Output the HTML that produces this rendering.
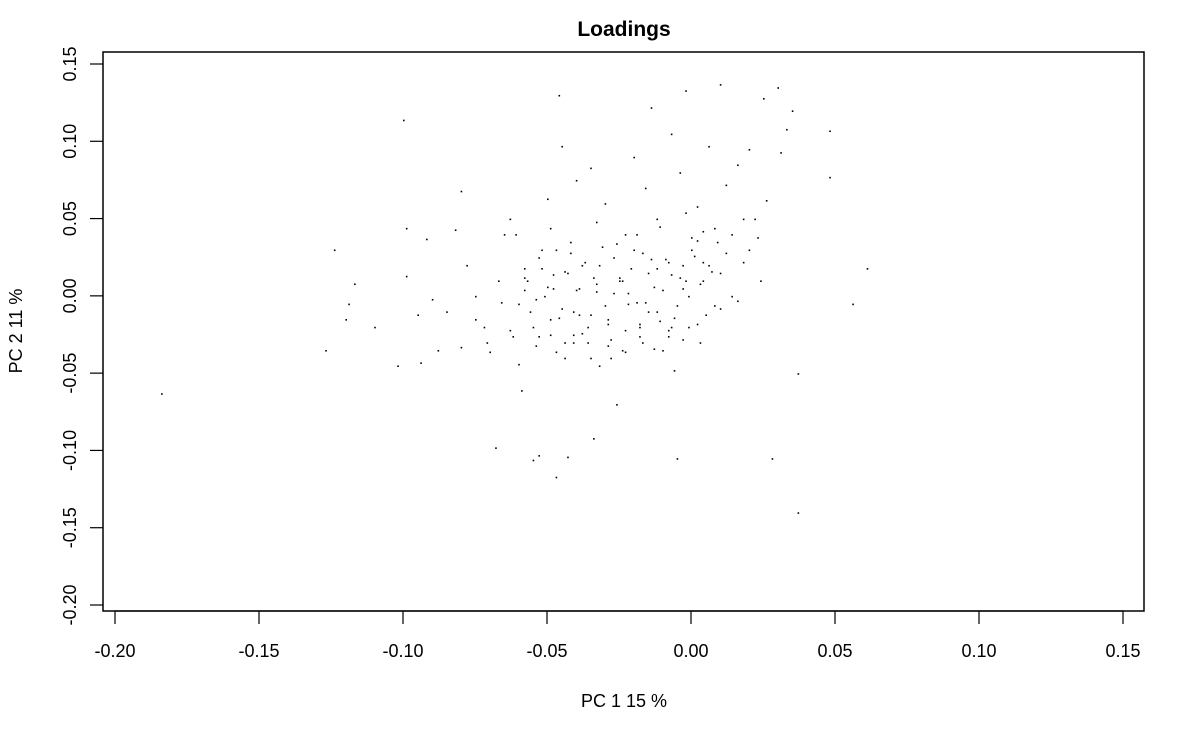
<!DOCTYPE html>
<html><head><meta charset="utf-8">
<style>
html,body{margin:0;padding:0;background:#fff;}
svg{display:block;font-family:"Liberation Sans",Arial,sans-serif;}
</style></head>
<body>
<svg id="chart" width="1198" height="740">
<text x="624" y="36" text-anchor="middle" font-size="21" font-weight="bold">Loadings</text>
<rect x="103" y="52" width="1041" height="559" fill="none" stroke="#000" stroke-width="1.5"/>
<g id="xaxis"></g>
<g id="yaxis"></g>
<text x="624" y="707" text-anchor="middle" font-size="18">PC 1 15 %</text>
<text transform="translate(22,331) rotate(-90)" text-anchor="middle" font-size="18">PC 2 11 %</text>
<g id="points"></g>
</svg>
<script>
const xTicks=[-0.20,-0.15,-0.10,-0.05,0.00,0.05,0.10,0.15];
const yTicks=[-0.20,-0.15,-0.10,-0.05,0.00,0.05,0.10,0.15];
const pc1=[-0.184,-0.127,-0.124,-0.120,-0.119,-0.117,-0.110,-0.102,-0.100,-0.099,-0.099,-0.095,-0.094,-0.092,-0.090,-0.088,-0.085,-0.082,-0.080,-0.080,-0.078,-0.075,-0.072,-0.070,-0.068,-0.065,-0.063,-0.060,-0.059,-0.058,-0.055,-0.053,-0.052,-0.050,-0.049,-0.048,-0.047,-0.046,-0.045,-0.044,-0.043,-0.042,-0.041,-0.040,-0.038,-0.036,-0.035,-0.034,-0.033,-0.032,-0.030,-0.029,-0.027,-0.026,-0.025,-0.024,-0.022,-0.020,-0.019,-0.018,-0.016,-0.015,-0.014,-0.012,-0.011,-0.010,-0.008,-0.007,-0.006,-0.005,-0.004,-0.003,-0.002,-0.001,0.000,0.002,0.003,0.004,0.006,0.008,0.009,0.010,0.012,0.014,0.016,0.018,0.020,0.022,0.024,0.025,0.026,0.028,0.030,0.031,0.033,0.035,0.037,0.037,0.048,0.048,0.056,0.061,0.020,0.023,0.016,0.010,
-0.060,-0.057,-0.055,-0.053,-0.051,-0.049,-0.047,-0.045,-0.043,-0.041,-0.039,-0.037,-0.035,-0.033,-0.031,-0.029,-0.027,-0.025,-0.023,-0.021,-0.019,-0.017,-0.015,-0.013,-0.011,-0.009,-0.007,-0.005,-0.003,-0.001,0.001,0.003,0.005,0.007,
-0.058,-0.054,-0.050,-0.046,-0.042,-0.038,-0.034,-0.030,-0.026,-0.022,-0.018,-0.014,-0.010,-0.006,-0.002,0.002,0.006,0.010,0.014,
-0.062,-0.056,-0.052,-0.048,-0.044,-0.040,-0.036,-0.032,-0.028,-0.024,-0.020,-0.016,-0.012,-0.008,-0.004,0.000,0.004,0.008,
-0.066,-0.061,-0.054,-0.049,-0.044,-0.039,-0.033,-0.028,-0.023,-0.017,-0.012,-0.007,-0.002,0.004,0.012,0.018,
-0.075,-0.071,-0.067,-0.063,-0.058,-0.053,-0.047,-0.041,-0.035,-0.029,-0.023,-0.018,-0.013,-0.008,-0.003,0.002];
const pc2=[-0.063,-0.035,0.030,-0.015,-0.005,0.008,-0.020,-0.045,0.114,0.044,0.013,-0.012,-0.043,0.037,-0.002,-0.035,-0.010,0.043,0.068,-0.033,0.020,-0.015,-0.020,-0.036,-0.098,0.040,0.050,-0.044,-0.061,0.012,-0.106,-0.103,0.018,0.063,-0.025,0.005,-0.117,0.130,0.097,-0.040,-0.104,0.035,-0.010,0.075,0.020,-0.030,0.083,-0.092,0.003,-0.045,0.060,-0.015,0.025,-0.070,0.010,-0.035,-0.005,0.090,0.040,-0.020,0.070,0.015,0.122,-0.010,0.045,-0.035,0.022,0.105,-0.048,-0.105,0.080,0.005,0.133,-0.020,0.030,0.058,-0.030,0.010,0.097,-0.006,0.035,0.137,0.072,0.000,0.085,0.022,0.095,0.050,0.010,0.128,0.062,-0.105,0.135,0.093,0.108,0.120,-0.050,-0.140,0.107,0.077,-0.005,0.018,0.030,0.038,-0.003,0.015,
-0.005,0.010,-0.020,0.025,0.000,-0.015,0.030,-0.008,0.015,-0.025,0.005,0.022,-0.012,0.008,0.032,-0.018,0.002,0.012,-0.022,0.018,-0.004,0.028,-0.010,0.006,-0.016,0.024,0.014,-0.006,0.020,0.000,0.026,0.008,-0.012,0.016,
0.018,-0.002,0.006,-0.014,0.028,-0.024,0.012,-0.006,0.034,0.002,-0.018,0.024,0.004,-0.014,0.010,0.036,0.020,-0.008,0.040,
-0.026,-0.010,0.030,0.014,-0.030,0.004,-0.020,0.020,-0.028,0.010,0.030,-0.004,0.018,-0.026,0.012,0.038,0.022,0.044,
-0.004,0.040,-0.032,0.044,0.016,-0.012,0.048,-0.040,0.040,-0.030,0.050,-0.020,0.054,0.042,0.028,0.050,
0.000,-0.030,0.010,-0.022,0.004,-0.026,-0.036,-0.030,-0.040,-0.032,-0.036,-0.026,-0.034,-0.022,-0.028,-0.018];
const X0=115,XS=144/0.05,Y0=605,YS=541/0.35;
const xs=v=>X0+(v+0.20)*XS, ys=v=>Y0-(v+0.20)*YS;
const NS='http://www.w3.org/2000/svg';
function mk(t,a){const e=document.createElementNS(NS,t);for(const k in a)e.setAttribute(k,a[k]);return e;}
const xg=document.getElementById('xaxis'),yg=document.getElementById('yaxis'),pg=document.getElementById('points');
xg.appendChild(mk('line',{x1:xs(xTicks[0]),x2:xs(xTicks[xTicks.length-1]),y1:611,y2:611,stroke:'#000','stroke-width':1.2}));
xTicks.forEach(t=>{const l=mk('line',{x1:xs(t),x2:xs(t),y1:611,y2:624,stroke:'#000','stroke-width':1.2});


xg.appendChild(l);
const tx=mk('text',{x:xs(t),y:657,'text-anchor':'middle','font-size':18});tx.textContent=t.toFixed(2);


xg.appendChild(tx);});
yTicks.forEach(t=>{const l=mk('line',{x1:90,x2:103,y1:ys(t),y2:ys(t),stroke:'#000','stroke-width':1.2});


yg.appendChild(l);
const tx=mk('text',{transform:`translate(76,${ys(t)}) rotate(-90)`,'text-anchor':'middle','font-size':18});tx.textContent=t.toFixed(2);


yg.appendChild(tx);});
for(let i=0;i<Math.min(pc1.length,pc2.length);i++){
const r=mk('rect',{x:xs(pc1[i]),y:ys(pc2[i]),width:1.6,height:1.6,fill:'#000'});


pg.appendChild(r);}
</script>
</body></html>
